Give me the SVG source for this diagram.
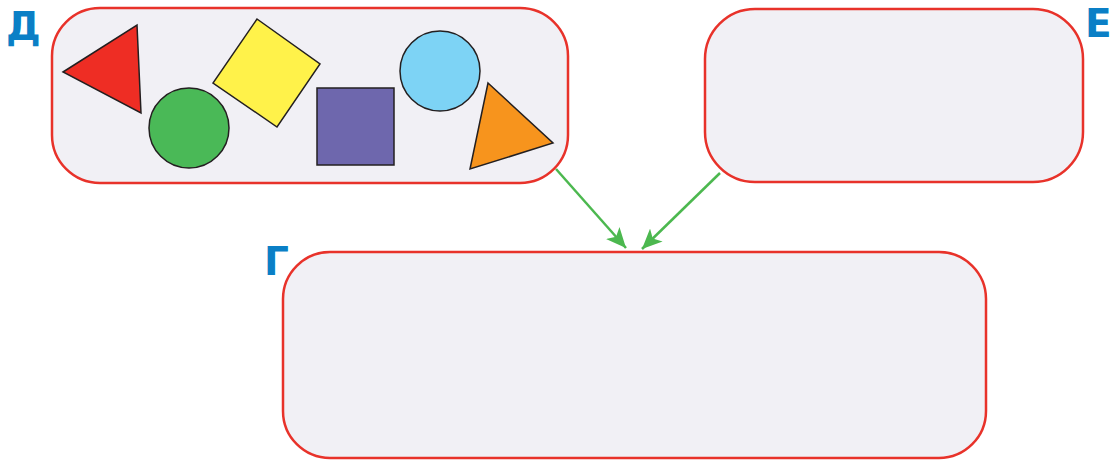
<svg xmlns="http://www.w3.org/2000/svg" width="1113" height="460" viewBox="0 0 1113 460">
<style>
.box{fill:#f1f0f5;stroke:#e8322a;stroke-width:2.5}
.lbl{font-family:"DejaVu Sans",sans-serif;font-weight:bold;font-size:39px;fill:#0a7fc6}
.sh{stroke:#231f20;stroke-width:1.5}
.conn{stroke:#4cb84f;stroke-width:2.5;fill:none}
</style>
<defs>
<marker id="ah" markerUnits="userSpaceOnUse" markerWidth="22" markerHeight="18" refX="20" refY="9" orient="auto">
<path d="M0,0 L20,9 L0,18 L5,9 z" fill="#4cb84f"/>
</marker>
</defs>
<g id="connectors">
<line class="conn" x1="556" y1="169" x2="626" y2="248" marker-end="url(#ah)"/>
<line class="conn" x1="720" y1="173" x2="642" y2="249" marker-end="url(#ah)"/>
</g>
<g id="node-D">
<rect class="box" x="52" y="8" width="516" height="175" rx="48" ry="48"/>
<text class="lbl" x="6" y="40">Д</text>
<polygon class="sh" fill="#ee2d24" points="63,72 137,25 141,113"/>
<circle class="sh" fill="#4ab957" cx="189" cy="128" r="40"/>
<polygon class="sh" fill="#fff24a" points="257,19 320,64 277,127 213,83"/>
<rect class="sh" fill="#6e67ad" x="317" y="88" width="77" height="77"/>
<circle class="sh" fill="#7dd3f5" cx="440" cy="71" r="40"/>
<polygon class="sh" fill="#f7941d" points="488,83 553,143 470,169"/>
</g>
<g id="node-E">
<rect class="box" x="705" y="9" width="378" height="173" rx="50" ry="50"/>
<text class="lbl" x="1085" y="37">Е</text>
</g>
<g id="node-G">
<rect class="box" x="283" y="252" width="703" height="206" rx="47" ry="47"/>
<text class="lbl" x="264" y="275">Г</text>
</g>
</svg>
